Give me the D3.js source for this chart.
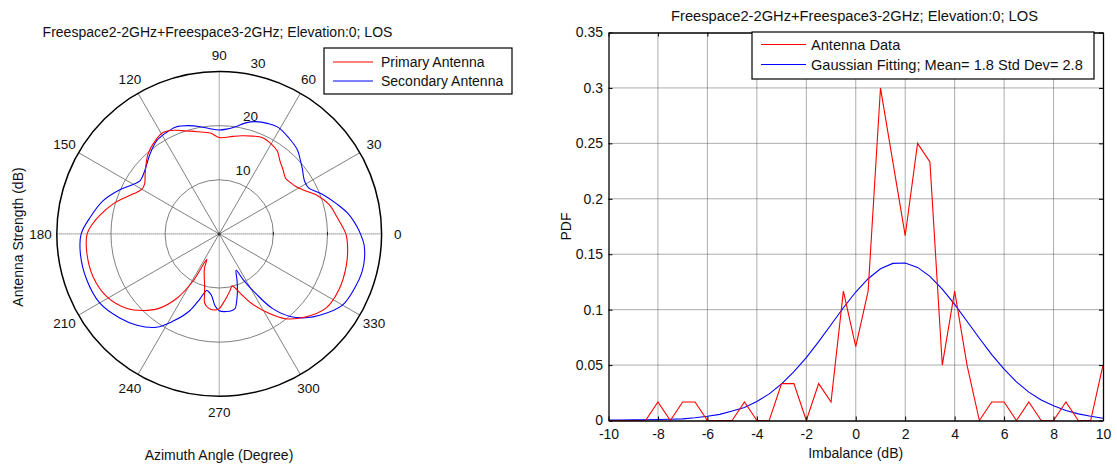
<!DOCTYPE html>
<html><head><meta charset="utf-8">
<script src="https://cdn.jsdelivr.net/npm/d3@7"></script>
<style>html,body{margin:0;padding:0;background:#fff;} svg{display:block;font-family:"Liberation Sans",Arial,sans-serif;}</style>
</head><body><svg id="c" width="1117" height="469"></svg>
<script>
// ---------------- DATA ----------------
const chartTitle = "Freespace2-2GHz+Freespace3-2GHz; Elevation:0; LOS";
const polarSeriesNames = ["Primary Antenna", "Secondary Antenna"];
const polarXLabel = "Azimuth Angle (Degree)";
const polarYLabel = "Antenna Strength (dB)";
const ringValues = [10, 20, 30];
const angleLabels = [0, 30, 60, 90, 120, 150, 180, 210, 240, 270, 300, 330];

const primaryAngles = [0, 8, 15, 22, 27, 32, 36, 40, 45, 50, 55, 60, 66, 71, 77, 82, 90, 95, 102, 108, 113, 119, 125, 132, 141, 146, 150, 155, 160, 164, 171, 176, 180, 188, 199, 209, 219, 225, 231, 236.6, 241, 243.8, 247, 250, 254, 256.5, 258, 262, 266, 270, 273, 277, 281, 284, 287, 289.5, 295, 302, 308, 316, 325, 335, 346, 355];
const primaryDb =     [23.4, 22.0, 21.0, 19.3, 17.7, 16.6, 16.2, 16.0, 16.7, 17.5, 18.7, 19.2, 19.5, 19.1, 18.6, 18.2, 17.8, 18.7, 19.3, 20.0, 20.8, 21.4, 20.8, 19.7, 17.6, 16.6, 16.5, 17.5, 19.0, 20.3, 22.3, 23.6, 24.4, 24.7, 24.6, 23.8, 21.9, 20.0, 17.7, 14.3, 9.9, 5.2, 7.0, 8.1, 9.8, 11.6, 13.0, 13.9, 14.1, 13.8, 12.9, 11.7, 10.6, 9.9, 10.6, 11.6, 14.2, 17.3, 19.9, 22.1, 24.0, 24.4, 24.2, 23.8];

const secondaryAngles = [0, 3, 8.6, 14, 21, 27, 31, 34, 38, 42, 47, 54, 61, 66, 72, 77, 81, 86, 90, 95, 100, 106, 112, 118, 124, 131, 140, 146, 150, 156, 164, 173, 180, 188, 199, 210, 220, 228, 236, 242, 249, 253.5, 257.6, 260, 263, 266.7, 270, 275.5, 280, 282, 285, 288, 291, 295, 297.8, 301.5, 305.5, 311, 316, 321, 330, 339, 345, 351, 356];
const secondaryDb =     [26.1, 25.5, 24.2, 22.5, 20.4, 18.6, 18.5, 18.8, 19.5, 20.2, 21.2, 21.9, 22.5, 22.3, 21.8, 21.0, 20.1, 19.4, 19.2, 19.5, 20.1, 20.8, 21.3, 21.1, 20.7, 19.5, 18.0, 17.6, 18.3, 20.1, 22.3, 24.1, 25.5, 25.9, 25.9, 25.5, 24.1, 22.7, 20.8, 18.3, 15.2, 12.5, 10.7, 10.9, 11.5, 13.3, 14.2, 14.4, 14.3, 14.1, 12.6, 10.9, 9.2, 7.4, 9.7, 12.9, 16.9, 20.3, 22.3, 23.9, 26.3, 27.0, 27.3, 27.2, 26.8];

const pdfSeriesNames = ["Antenna Data", "Gaussian Fitting; Mean= 1.8 Std Dev= 2.8"];
const pdfXLabel = "Imbalance (dB)";
const pdfYLabel = "PDF";
const binCenters = [-10, -9.5, -9, -8.5, -8, -7.5, -7, -6.5, -6, -5.5, -5, -4.5, -4, -3.5, -3, -2.5, -2, -1.5, -1, -0.5, 0, 0.5, 1, 1.5, 2, 2.5, 3, 3.5, 4, 4.5, 5, 5.5, 6, 6.5, 7, 7.5, 8, 8.5, 9, 9.5, 10];
const antennaPdf = [0, 0, 0, 0, 0.0167, 0, 0.0167, 0.0167, 0, 0, 0, 0.0167, 0, 0, 0.0333, 0.0333, 0, 0.0333, 0.0167, 0.1167, 0.0667, 0.1167, 0.3, 0.2333, 0.1667, 0.25, 0.2333, 0.05, 0.1167, 0.05, 0, 0.0167, 0.0167, 0, 0.0167, 0, 0, 0.0167, 0, 0, 0.05];
const gaussianPdf = [0.0005, 0.0005, 0.0006, 0.0007, 0.0009, 0.0011, 0.0015, 0.0025, 0.0038, 0.0055, 0.0085, 0.0118, 0.0172, 0.0240, 0.0330, 0.0440, 0.0567, 0.0712, 0.0864, 0.1017, 0.1159, 0.1279, 0.1368, 0.1417, 0.1421, 0.1381, 0.1300, 0.1185, 0.1047, 0.0895, 0.0742, 0.0595, 0.0463, 0.0348, 0.0256, 0.0185, 0.0132, 0.0090, 0.0060, 0.0038, 0.0020];
const xTicks = [-10, -8, -6, -4, -2, 0, 2, 4, 6, 8, 10];
const xTickLabels = ["-10", "-8", "-6", "-4", "-2", "0", "2", "4", "6", "8", "10"];
const yTicks = [0, 0.05, 0.1, 0.15, 0.2, 0.25, 0.3, 0.35];
const yTickLabels = ["0", "0.05", "0.1", "0.15", "0.2", "0.25", "0.3", "0.35"];

// ---------------- DRAW ----------------
const FONT = '"Liberation Sans", Arial, sans-serif';
const svg = d3.select("#c");
svg.append("rect").attr("width", 1117).attr("height", 469).attr("fill", "#fff");
const toRad = d => d * Math.PI / 180;

// ===== Polar plot =====
const cx = 219.2, cy = 233.9, R = 162.4;
const rad = d3.scaleLinear().domain([0, 30]).range([0, R]);
const pg = svg.append("g").attr("transform", `translate(${cx},${cy})`);

// rings
ringValues.slice(0, -1).forEach(v => {
  pg.append("circle").attr("r", rad(v)).attr("fill", "none").attr("stroke", "#808080").attr("stroke-width", 1);
});
// spokes
[30, 60, 120, 150].forEach(a => {
  const c = Math.cos(toRad(a)) * rad(30), s = Math.sin(toRad(a)) * rad(30);
  pg.append("line").attr("x1", c).attr("y1", -s).attr("x2", -c).attr("y2", s)
    .attr("stroke", "#808080").attr("stroke-width", 1);
});
[0, 90].forEach(a => {
  const c = Math.cos(toRad(a)) * rad(30), s = Math.sin(toRad(a)) * rad(30);
  pg.append("line").attr("x1", c).attr("y1", -s).attr("x2", -c).attr("y2", s)
    .attr("stroke", "#555").attr("stroke-width", 1).attr("stroke-dasharray", "1,1");
});
// small ticks on 0° axis
ringValues.slice(0, -1).forEach(v => {
  pg.append("line").attr("x1", rad(v)).attr("x2", rad(v)).attr("y1", -2).attr("y2", 1.5)
    .attr("stroke", "#222").attr("stroke-width", 1);
});
pg.append("circle").attr("r", 1.5).attr("fill", "#333");

// data curves
const radial = d3.lineRadial()
  .angle(d => toRad(90 - d[0]))
  .radius(d => rad(d[1]))
  .curve(d3.curveCatmullRomClosed.alpha(0.5));
pg.append("path").datum(d3.zip(secondaryAngles, secondaryDb)).attr("d", radial)
  .attr("fill", "none").attr("stroke", "#0000ff").attr("stroke-width", 1.1);
pg.append("path").datum(d3.zip(primaryAngles, primaryDb)).attr("d", radial)
  .attr("fill", "none").attr("stroke", "#ff0000").attr("stroke-width", 1.1);

// outer ring
pg.append("circle").attr("r", rad(30)).attr("fill", "none").attr("stroke", "#000").attr("stroke-width", 1.5);

// ring labels (placed along the 82° direction, as in the reference)
ringValues.forEach(v => {
  pg.append("text")
    .attr("x", rad(v) * Math.cos(toRad(82)) + 8.8)
    .attr("y", -rad(v) * Math.sin(toRad(82)) - 5.3)
    .attr("font-size", 13.5).attr("font-family", FONT).attr("fill", "#111")
    .text(v);
});
// angle labels
angleLabels.forEach(a => {
  pg.append("text")
    .attr("x", 1.1 * R * Math.cos(toRad(a)))
    .attr("y", -1.1 * R * Math.sin(toRad(a)))
    .attr("dy", "0.36em")
    .attr("text-anchor", "middle")
    .attr("font-size", 13.5).attr("font-family", FONT).attr("fill", "#111")
    .text(a);
});

// polar title & labels
svg.append("text").attr("x", 217.5).attr("y", 37.3).attr("text-anchor", "middle")
  .attr("font-size", 14).attr("font-family", FONT).attr("fill", "#111").text(chartTitle);
svg.append("text").attr("transform", "translate(23,237) rotate(-90)").attr("text-anchor", "middle")
  .attr("font-size", 14).attr("font-family", FONT).attr("fill", "#111").text(polarYLabel);
svg.append("text").attr("x", 219).attr("y", 460).attr("text-anchor", "middle")
  .attr("font-size", 14).attr("font-family", FONT).attr("fill", "#111").text(polarXLabel);

// polar legend
const lg = svg.append("g");
lg.append("rect").attr("x", 324).attr("y", 48).attr("width", 188).attr("height", 46)
  .attr("fill", "#fff").attr("stroke", "#000").attr("stroke-width", 1.2);
[["#ff0000", 62], ["#0000ff", 81]].forEach((c, i) => {
  lg.append("line").attr("x1", 333).attr("x2", 373).attr("y1", c[1]).attr("y2", c[1])
    .attr("stroke", c[0]).attr("stroke-width", 1.1);
  lg.append("text").attr("x", 381).attr("y", c[1] + 5).attr("font-size", 14)
    .attr("font-family", FONT).attr("fill", "#111").text(polarSeriesNames[i]);
});

// ===== PDF plot =====
const x = d3.scaleLinear().domain([-10, 10]).range([608.5, 1103]);
const y = d3.scaleLinear().domain([0, 0.35]).range([420.5, 32.5]);

const grid = svg.append("g");
xTicks.slice(1, -1).forEach(t => {
  grid.append("line").attr("x1", x(t)).attr("x2", x(t)).attr("y1", y(0)).attr("y2", y(0.35))
    .attr("stroke", "#5a5a5a").attr("stroke-width", 1).attr("stroke-dasharray", "1,1");
});
yTicks.slice(1, -1).forEach(t => {
  grid.append("line").attr("x1", x(-10)).attr("x2", x(10)).attr("y1", y(t)).attr("y2", y(t))
    .attr("stroke", "#5a5a5a").attr("stroke-width", 1).attr("stroke-dasharray", "1,1");
});

const line = d3.line().x(d => x(d[0])).y(d => y(d[1]));
svg.append("path").datum(d3.zip(binCenters, gaussianPdf)).attr("d", line)
  .attr("fill", "none").attr("stroke", "#0000ff").attr("stroke-width", 1.1);
svg.append("path").datum(d3.zip(binCenters, antennaPdf)).attr("d", line)
  .attr("fill", "none").attr("stroke", "#ff0000").attr("stroke-width", 1.1);

function styleAxis(g) {
  g.attr("font-size", 14).attr("font-family", FONT);
  g.select(".domain").attr("stroke", "#000").attr("stroke-width", 1.3);
  g.selectAll(".tick line").attr("stroke", "#000");
  g.selectAll(".tick text").attr("fill", "#111");
}
svg.append("g").attr("transform", `translate(0,${y(0)})`)
  .call(d3.axisBottom(x).tickValues(xTicks).tickFormat((d, i) => xTickLabels[i]).tickSizeInner(-4).tickSizeOuter(0).tickPadding(8.5))
  .call(styleAxis);
svg.append("g").attr("transform", `translate(0,${y(0.35)})`)
  .call(d3.axisTop(x).tickValues(xTicks).tickFormat("").tickSizeInner(-4).tickSizeOuter(0))
  .call(styleAxis);
svg.append("g").attr("transform", `translate(${x(-10)},0)`)
  .call(d3.axisLeft(y).tickValues(yTicks).tickFormat((d, i) => yTickLabels[i]).tickSizeInner(-4).tickSizeOuter(0).tickPadding(5.5))
  .call(styleAxis);
svg.append("g").attr("transform", `translate(${x(10)},0)`)
  .call(d3.axisRight(y).tickValues(yTicks).tickFormat("").tickSizeInner(-4).tickSizeOuter(0))
  .call(styleAxis);

svg.append("text").attr("x", 854.5).attr("y", 21).attr("text-anchor", "middle")
  .attr("font-size", 14.7).attr("font-family", FONT).attr("fill", "#111").text(chartTitle);
svg.append("text").attr("x", 855.7).attr("y", 458).attr("text-anchor", "middle")
  .attr("font-size", 14).attr("font-family", FONT).attr("fill", "#111").text(pdfXLabel);
svg.append("text").attr("transform", "translate(571,226.5) rotate(-90)").attr("text-anchor", "middle")
  .attr("font-size", 14).attr("font-family", FONT).attr("fill", "#111").text(pdfYLabel);

// pdf legend
const lg2 = svg.append("g");
lg2.append("rect").attr("x", 752).attr("y", 32).attr("width", 342).attr("height", 47)
  .attr("fill", "#fff").attr("stroke", "#000").attr("stroke-width", 1.2);
[["#ff0000", 44.5], ["#0000ff", 64.5]].forEach((c, i) => {
  lg2.append("line").attr("x1", 761).attr("x2", 806).attr("y1", c[1]).attr("y2", c[1])
    .attr("stroke", c[0]).attr("stroke-width", 1.1);
  lg2.append("text").attr("x", 811).attr("y", c[1] + 5.2).attr("font-size", 14.6)
    .attr("font-family", FONT).attr("fill", "#111").text(pdfSeriesNames[i]);
});
</script></body></html>
